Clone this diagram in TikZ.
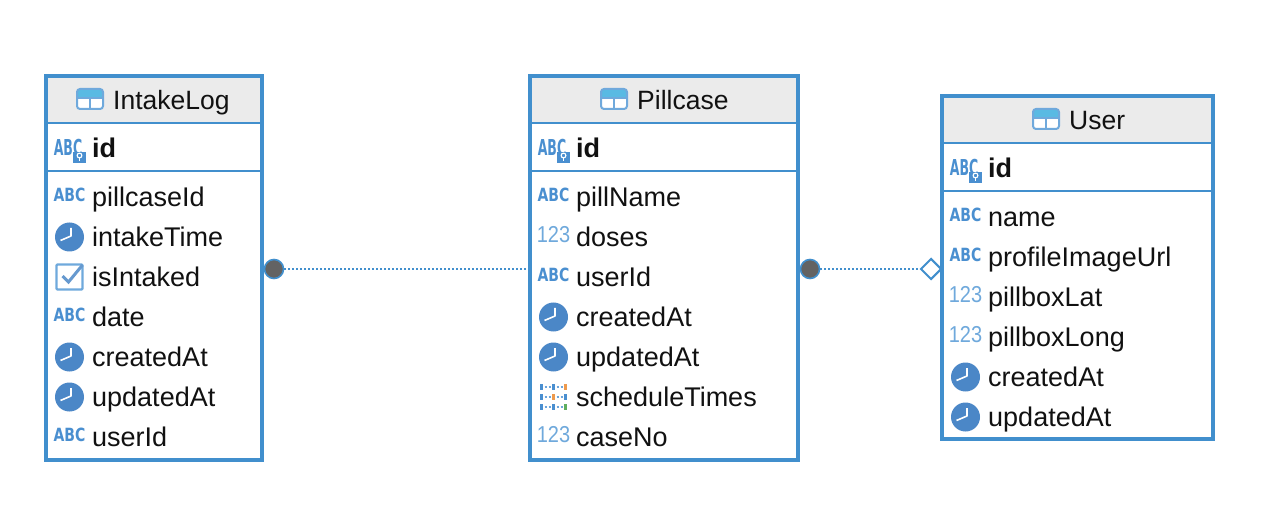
\documentclass[tikz,border=0pt]{standalone}
\usepackage{fontspec}
\setmainfont{Liberation Sans}
\newfontfamily\iconfont{DejaVu Sans}
\usetikzlibrary{shapes.geometric}
\definecolor{erblue}{HTML}{418FCD}
\definecolor{icblue}{HTML}{4A8FD0}
\definecolor{iclight}{HTML}{6FA9DC}
\definecolor{clockblue}{HTML}{4B87C7}
\definecolor{headgrey}{HTML}{EBEBEB}
\definecolor{txt}{HTML}{111111}
\definecolor{dotgrey}{HTML}{636363}
\definecolor{gridorange}{HTML}{EE9A4D}
\definecolor{gridgreen}{HTML}{5FAE5F}
\tikzset{
  x=1pt,y=-1pt,
  tablebox/.style={draw=erblue,line width=4pt,inner sep=0pt,fill=white},
  sepline/.style={draw=erblue,line width=2pt},
  attr/.style={anchor=base west,inner sep=0pt,text=txt,font=\fontsize{27}{30}\selectfont},
  keyattr/.style={attr,font=\fontsize{27}{30}\selectfont\bfseries},
  headtext/.style={attr,font=\fontsize{26.5}{30}\selectfont},
  reldot/.style={circle,draw=erblue,fill=dotgrey,line width=1.6pt,inner sep=0pt,minimum size=19pt},
  relopt/.style={diamond,aspect=1,draw=erblue,fill=white,line width=2pt,inner sep=0pt,minimum size=21pt},
  rel/.style={draw=erblue,line width=2pt,dash pattern=on 2pt off 2pt},
  icabc/.style={inner sep=0pt,text=icblue,font=\iconfont\fontsize{14}{14}\selectfont\bfseries,yscale=1.3},
  ic123/.style={inner sep=0pt,text=iclight,font=\fontsize{20}{20}\selectfont,yscale=1.15},
  abcicon/.pic={\node[icabc] (-t) at (0,-2) {ABC};},
  numicon/.pic={\node[ic123] (-t) at (0,-2) {123};},
  keyicon/.pic={
    \node[icabc,font=\iconfont\fontsize{12.5}{14}\selectfont\bfseries,yscale=1.35] (-t) at (-1.5,-0.5) {ABC};
    \fill[icblue] (3.5,15) rectangle (16,4);
    \draw[white,line width=1.1pt] (10,7.5) circle (2.4);
    \draw[white,line width=1.1pt] (10,10) -- (10,13.5);
  },
  clockicon/.pic={
    \fill[clockblue] (0,0) circle (14.5);
    \draw[white,line width=1.6pt,line join=round] (1.5,-9) -- (1.5,-1) -- (-9,3.5);
  },
  checkicon/.pic={
    \draw[iclight,line width=2.2pt,rounded corners=1pt] (-13,-12.5) rectangle (13,12.5);
    \draw[clockblue!85!white,line width=3pt] (-7,-1) -- (-1,5) -- (13,-12);
  },
  gridicon/.pic={
    \foreach \yy in {-10,0,10}{\draw[icblue!80!white,line width=1.1pt,dash pattern=on 2pt off 2pt] (-13,\yy) -- (13,\yy);}
    \foreach \xx/\yy/\cc in {-12/-10/icblue,0/-10/icblue,12/-10/gridorange,-12/0/icblue,0/0/gridorange,12/0/icblue,-12/10/icblue,0/10/icblue,12/10/gridgreen}{
      \fill[\cc] (\xx-1.8,\yy-2.8) rectangle (\xx+1.8,\yy+2.8);}
  },
  tableicon/.pic={
    \fill[white] (-13,-10) rectangle (13,10);
    \fill[iclight!80!cyan] (-13,-10) rectangle (13,-1);
    \draw[iclight,line width=2pt,rounded corners=3pt] (-13,-10) rectangle (13,10);
    \draw[iclight,line width=1.6pt] (-13,-1) -- (13,-1) (0,-1) -- (0,10);
  },
}
% #1 text style, #2 node name, #3 box left edge, #4 row centre y, #5 icon, #6 text
\newcommand{\attrrow}[6][attr]{%
  \pic (#2-i) at ({#3+23.5},#4) {#5};
  \node[#1] (#2) at ({#3+46},{#4+9.5}) {#6};
}
\begin{document}
\begin{tikzpicture}
\useasboundingbox (0,0) rectangle (1276,526);
\fill[white] (0,0) rectangle (1276,526);

% IntakeLog
\node[tablebox,minimum width=216pt,minimum height=384pt] (intake) at (154,268) {};
\fill[headgrey] (48,78) rectangle (260,122);
\draw[sepline] (intake.west |- 0,123) -- (intake.east |- 0,123);
\draw[sepline] (intake.west |- 0,171) -- (intake.east |- 0,171);
\pic (intakehead-i) at (90,99) {tableicon};
\node[headtext] (intakehead) at (113,110) {IntakeLog};
\attrrow[keyattr]{il1}{46}{148}{keyicon}{id}
\attrrow{il2}{46}{197}{abcicon}{pillcaseId}
\attrrow{il3}{46}{237}{clockicon}{intakeTime}
\attrrow{il4}{46}{277}{checkicon}{isIntaked}
\attrrow{il5}{46}{317}{abcicon}{date}
\attrrow{il6}{46}{357}{clockicon}{createdAt}
\attrrow{il7}{46}{397}{clockicon}{updatedAt}
\attrrow{il8}{46}{437}{abcicon}{userId}

% Pillcase
\node[tablebox,minimum width=268pt,minimum height=384pt] (pill) at (664,268) {};
\fill[headgrey] (532,78) rectangle (796,122);
\draw[sepline] (pill.west |- 0,123) -- (pill.east |- 0,123);
\draw[sepline] (pill.west |- 0,171) -- (pill.east |- 0,171);
\pic (pillhead-i) at (614,99) {tableicon};
\node[headtext] (pillhead) at (637,110) {Pillcase};
\attrrow[keyattr]{pc1}{530}{148}{keyicon}{id}
\attrrow{pc2}{530}{197}{abcicon}{pillName}
\attrrow{pc3}{530}{237}{numicon}{doses}
\attrrow{pc4}{530}{277}{abcicon}{userId}
\attrrow{pc5}{530}{317}{clockicon}{createdAt}
\attrrow{pc6}{530}{357}{clockicon}{updatedAt}
\attrrow{pc7}{530}{397}{gridicon}{scheduleTimes}
\attrrow{pc8}{530}{437}{numicon}{caseNo}

% User
\node[tablebox,minimum width=271pt,minimum height=343pt] (user) at (1077.5,267.5) {};
\fill[headgrey] (944,98) rectangle (1211,142);
\draw[sepline] (user.west |- 0,143) -- (user.east |- 0,143);
\draw[sepline] (user.west |- 0,191) -- (user.east |- 0,191);
\pic (userhead-i) at (1046,119) {tableicon};
\node[headtext] (userhead) at (1069,130) {User};
\attrrow[keyattr]{us1}{942}{168}{keyicon}{id}
\attrrow{us2}{942}{217}{abcicon}{name}
\attrrow{us3}{942}{257}{abcicon}{profileImageUrl}
\attrrow{us4}{942}{297}{numicon}{pillboxLat}
\attrrow{us5}{942}{337}{numicon}{pillboxLong}
\attrrow{us6}{942}{377}{clockicon}{createdAt}
\attrrow{us7}{942}{417}{clockicon}{updatedAt}

% Relations
\node[reldot] (dotA) at (274,269) {};
\node[reldot] (dotB) at (810,269) {};
\node[relopt] (optB) at (931,269) {};
\draw[rel] (dotA.east) -- (dotA.east -| pill.west);
\draw[rel] (dotB.east) -- (optB.west);
\end{tikzpicture}
\end{document}
